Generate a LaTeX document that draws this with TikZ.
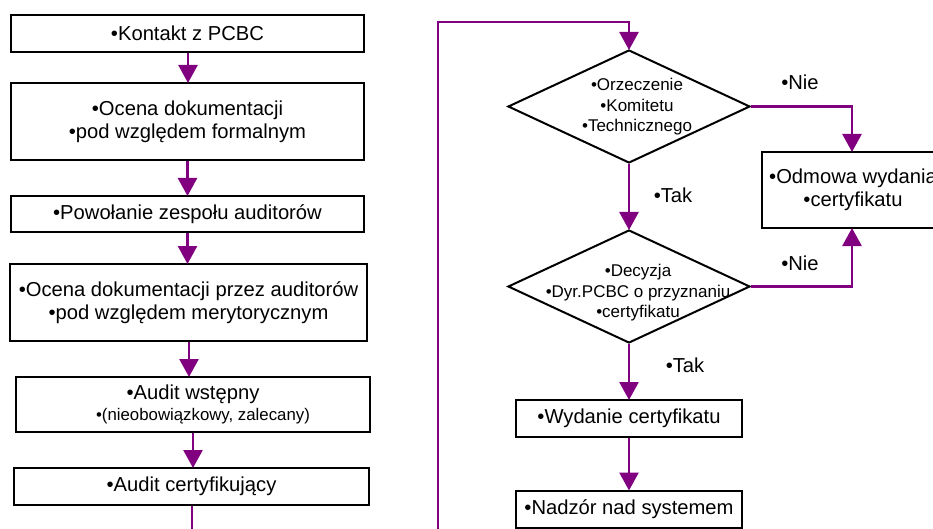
\documentclass[tikz,border=0pt]{standalone}
\usepackage{fontspec}
\setmainfont{Liberation Sans}
\usetikzlibrary{arrows.meta,shapes.geometric}
\definecolor{lnk}{RGB}{128,0,128}
\begin{document}
\begin{tikzpicture}[x=1pt,y=-1pt,
  bx/.style={draw=black,line width=2pt,rectangle,inner sep=0pt,align=center,
    font=\fontsize{20.2}{23}\selectfont},
  dia/.style={draw=black,line width=2pt,diamond,inner sep=0pt,
    minimum width=242pt,minimum height=113pt,shape aspect=2.14},
  dtext/.style={align=center,inner sep=0pt,font=\fontsize{17}{20.5}\selectfont},
  lbl/.style={inner sep=0pt,font=\fontsize{20.2}{23}\selectfont},
  ln/.style={draw=lnk,line width=2.6pt},
  arr/.style={ln,-{Triangle[width=19pt,length=18pt]},shorten >=-1pt}]
\useasboundingbox (0,0) rectangle (933,529);
% left column
\node[bx,minimum width=353pt,minimum height=37pt] (b1) at (187.5,33.5) {•Kontakt z PCBC};
\node[bx,minimum width=353pt,minimum height=77pt] (b2) at (187.5,121.5) {•Ocena dokumentacji\\•pod względem formalnym};
\node[bx,minimum width=353pt,minimum height=36pt] (b3) at (187.5,214) {•Powołanie zespołu auditorów};
\node[bx,minimum width=357pt,minimum height=77pt] (b4) at (188.5,302.5) {•Ocena dokumentacji przez auditorów\\•pod względem merytorycznym};
\node[bx,minimum width=354pt,minimum height=55pt] (b5) at (193,404.5) {•Audit wstępny\\[-2pt]{\fontsize{16.8}{19}\selectfont\hspace*{20pt}•(nieobowiązkowy, zalecany)}};
\node[bx,minimum width=355pt,minimum height=37pt] (b6) at (191.5,486.5) {•Audit certyfikujący};
% right column
\node[dia] (d1) at (629,106.5) {};
\node[dtext] (d1t) at (637,107) {•Orzeczenie\\•Komitetu\\•Technicznego};
\node[dia] (d2) at (629,286.5) {};
\node[dtext] (d2t) at (638,293) {•Decyzja\\•Dyr.PCBC o przyznaniu\\•certyfikatu};
\node[bx,minimum width=182pt,minimum height=76pt] (od) at (853,190) {•Odmowa wydania\\•certyfikatu};
\node[bx,minimum width=226pt,minimum height=37pt] (wy) at (629,418.5) {•Wydanie certyfikatu};
\node[bx,minimum width=226pt,minimum height=37pt] (na) at (629,509) {•Nadzór nad systemem};
% labels
\node[lbl] (n1) at (800,82) {•Nie};
\node[lbl] (n2) at (800,263) {•Nie};
\node[lbl] (t1) at (673,195) {•Tak};
\node[lbl] (t2) at (685,365) {•Tak};
% left arrows
\draw[arr] (b1.south -| 188,0) -- (b2.north -| 188,0);
\draw[arr] (b2.south -| 187.5,0) -- (b3.north -| 187.5,0);
\draw[arr] (b3.south -| 187.5,0) -- (b4.north -| 187.5,0);
\draw[arr] (b4.south -| 189,0) -- (b5.north -| 189,0);
\draw[arr] (b5.south -| 193,0) -- (b6.north -| 193,0);
% loop
\coordinate (lb) at (192,560);
\coordinate (rb) at (438,560);
\coordinate (rt) at (438,22);
\draw[arr] (b6.south -| 192,0) -- (lb) -- (rb) -- (rt) -| (d1.north);
% right arrows
\draw[arr] (d1.south) -- (d2.north);
\draw[arr] (d2.south) -- (wy.north);
\draw[arr] (wy.south) -- (na.north);
\draw[arr] (d1.east) -| (od.north -| 852,0);
\draw[arr] (d2.east) -| (od.south -| 852,0);
\end{tikzpicture}
\end{document}
